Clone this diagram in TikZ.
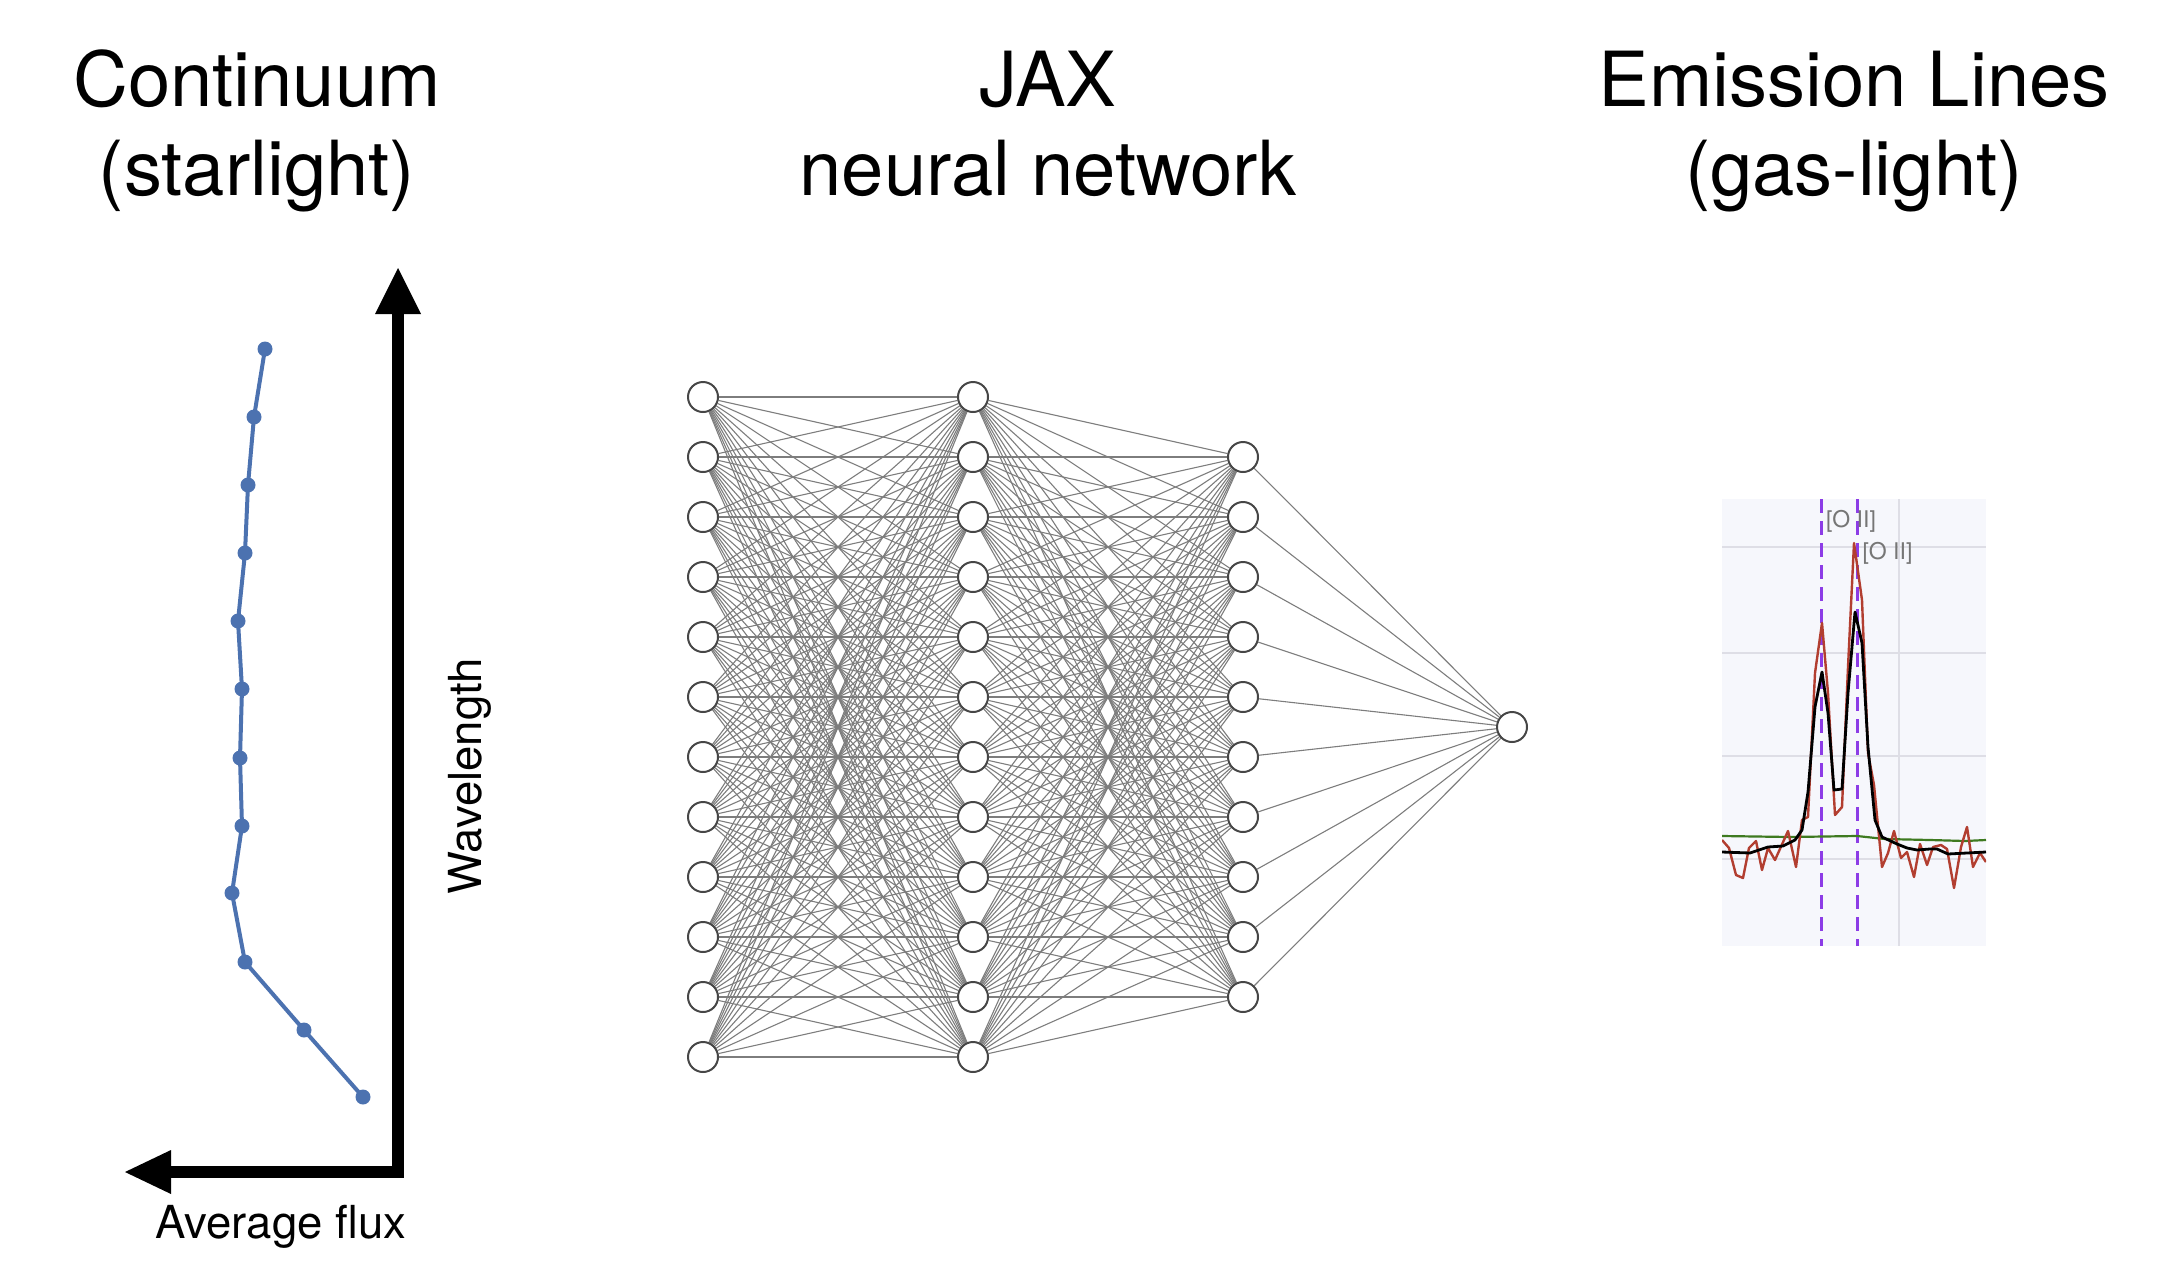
\documentclass[tikz,border=0pt]{standalone}
\usepackage{fontspec}
\setmainfont{TeX Gyre Heros}
\usetikzlibrary{backgrounds}
\definecolor{dotblue}{RGB}{76,114,176}
\definecolor{edgegray}{RGB}{125,125,125}
\definecolor{nodeborder}{RGB}{70,70,70}
\definecolor{panelbg}{RGB}{246,247,252}
\definecolor{gridc}{RGB}{222,222,230}
\definecolor{linepurple}{RGB}{140,60,230}
\definecolor{specred}{RGB}{178,62,48}
\definecolor{specgreen}{RGB}{62,122,32}
\definecolor{labgray}{RGB}{118,118,118}
\tikzset{
  title/.style={anchor=base, font={\fontsize{76}{90}\selectfont}},
  axislabel/.style={font={\fontsize{45.5}{52}\selectfont}},
  neuron/.style={circle, draw=nodeborder, fill=white, line width=2pt, minimum size=30pt, inner sep=0pt},
  conn/.style={draw=edgegray, line width=1.1pt},
  dot/.style={circle, fill=dotblue, minimum size=15pt, inner sep=0pt},
  dotline/.style={draw=dotblue, line width=4pt},
  axisbar/.style={line width=12pt, line join=miter},
  oiilabel/.style={text=labgray, font={\fontsize{23}{26}\selectfont}, inner sep=0pt},
  oiiline/.style={linepurple, line width=3pt, dash pattern=on 14pt off 8pt}
}
\begin{document}
\begin{tikzpicture}[x=1pt,y=-1pt]
\useasboundingbox (0,0) rectangle (2172,1278);

% titles
\node[title] (t1a) at (257,106) {Continuum};
\node[title] (t1b) at (257,195) {(starlight)};
\node[title] (t2a) at (1048,106) {JAX};
\node[title] (t2b) at (1048,195) {neural network};
\node[title] (t3a) at (1854,106) {Emission Lines};
\node[title] (t3b) at (1854,195) {(gas-light)};

% ---------- Continuum panel ----------
\coordinate (origin) at (398,1172);
\coordinate (ybase) at (398,314);
\coordinate (ytip) at (398,268);
\coordinate (xbase) at (171,1172);
\coordinate (xtip) at (125,1172);
\draw[axisbar] (xbase) -- (origin) -- (ybase);
\fill (ytip) -- ([xshift=-23pt]ybase) -- ([xshift=23pt]ybase) -- cycle;
\fill (xtip) -- ([yshift=-22pt]xbase) -- ([yshift=22pt]xbase) -- cycle;
\node[axislabel, rotate=90] (wl) at (470,776) {Wavelength};
\node[axislabel, anchor=base] (af) at (281,1238) {Average flux};

\foreach \n/\x/\y in {1/265/349,2/254/417,3/248/485,4/245/553,5/238/621,6/242/689,7/240/758,8/242/826,9/232/893,10/245/962,11/304/1030,12/363/1097}
  \node[dot] (d\n) at (\x,\y) {};
\foreach \i [evaluate=\i as \j using int(\i+1)] in {1,...,11}
  \draw[dotline] (d\i.center) -- (d\j.center);

% ---------- Neural network ----------
\foreach \i in {1,...,12} {
  \node[neuron] (a\i) at (703,{397+60*(\i-1)}) {};
  \node[neuron] (b\i) at (973,{397+60*(\i-1)}) {};
}
\foreach \i in {1,...,10}
  \node[neuron] (c\i) at (1243,{457+60*(\i-1)}) {};
\node[neuron] (out) at (1512,727) {};
\begin{pgfonlayer}{background}
  \foreach \i in {1,...,12}
    \foreach \j in {1,...,12}
      \draw[conn] (a\i) -- (b\j);
  \foreach \i in {1,...,12}
    \foreach \j in {1,...,10}
      \draw[conn] (b\i) -- (c\j);
  \foreach \j in {1,...,10}
    \draw[conn] (c\j) -- (out);
\end{pgfonlayer}

% ---------- Emission line panel ----------
\fill[panelbg] (1722,499) rectangle (1986,946);
\begin{scope}
\clip (1722,499) rectangle (1986,946);
\foreach \y in {547,653,756,859}
  \draw[gridc, line width=2pt] (1722,\y) -- (1986,\y);
\draw[gridc, line width=2pt] (1899,499) -- (1899,946);
\draw[oiiline] (1821,499) -- (1821,946);
\draw[oiiline] (1857,499) -- (1857,946);
\draw[specgreen, line width=2.2pt] (1722,836) -- (1790,837) -- (1857,836) -- (1885,839) -- (1930,840) -- (1965,841) -- (1986,840);
\draw[specred, line width=2.4pt, line join=round] (1722,840) -- (1729,848) -- (1736,875) -- (1743,878) -- (1749,848) -- (1756,841) -- (1762,870) -- (1768,848) -- (1775,860) -- (1788,831) -- (1796,867) -- (1802,820) -- (1808,817) -- (1815,673) -- (1822,623) -- (1828,693) -- (1835,815) -- (1842,807) -- (1848,667) -- (1854,543) -- (1862,600) -- (1868,753) -- (1874,785) -- (1882,867) -- (1888,853) -- (1894,831) -- (1901,858) -- (1907,852) -- (1914,877) -- (1920,844) -- (1927,865) -- (1933,847) -- (1941,845) -- (1947,849) -- (1954,888) -- (1961,847) -- (1967,827) -- (1973,867) -- (1980,853) -- (1986,862);
\draw[black, line width=2.8pt, line join=round] (1722,852) -- (1750,853) -- (1768,847) -- (1783,846) -- (1795,840) -- (1802,830) -- (1808,792) -- (1815,707) -- (1822,672) -- (1828,713) -- (1834,790) -- (1842,789) -- (1848,693) -- (1855,612) -- (1862,643) -- (1868,747) -- (1875,820) -- (1882,837) -- (1897,844) -- (1907,848) -- (1917,850) -- (1930,849) -- (1937,849) -- (1948,854) -- (1967,853) -- (1986,852);
\end{scope}
\node[oiilabel] (oii1) at (1851,521) {[O II]};
\node[oiilabel] (oii2) at (1887.5,553.5) {[O II]};
\end{tikzpicture}
\end{document}
